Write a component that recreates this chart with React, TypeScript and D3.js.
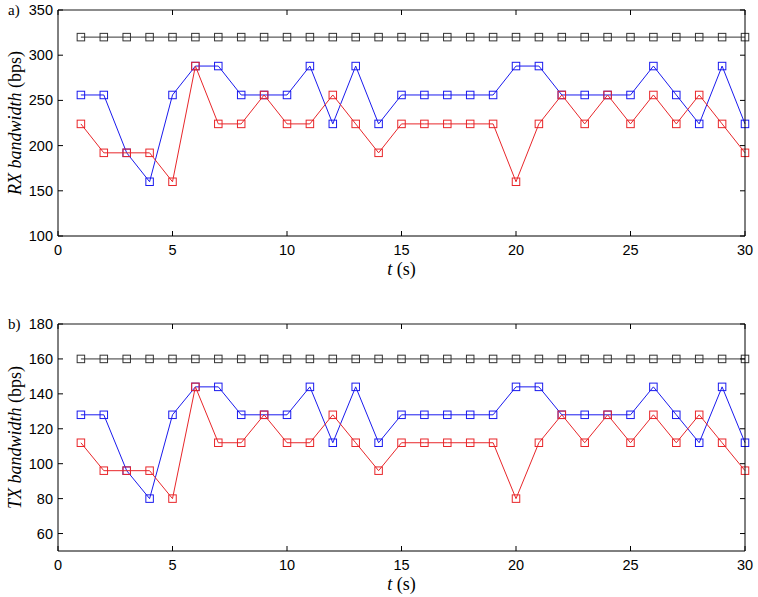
import React from "react";
import * as d3 from "d3";

const tValues = d3.range(1, 31);
const rxMax = [320,320,320,320,320,320,320,320,320,320,320,320,320,320,320,320,320,320,320,320,320,320,320,320,320,320,320,320,320,320];
const rxBlue = [256,256,192,160,256,288,288,256,256,256,288,224,288,224,256,256,256,256,256,288,288,256,256,256,256,288,256,224,288,224];
const rxRed = [224,192,192,192,160,288,224,224,256,224,224,256,224,192,224,224,224,224,224,160,224,256,224,256,224,256,224,256,224,192];
const txMax = [160,160,160,160,160,160,160,160,160,160,160,160,160,160,160,160,160,160,160,160,160,160,160,160,160,160,160,160,160,160];
const txBlue = [128,128,96,80,128,144,144,128,128,128,144,112,144,112,128,128,128,128,128,144,144,128,128,128,128,144,128,112,144,112];
const txRed = [112,96,96,96,80,144,112,112,128,112,112,128,112,96,112,112,112,112,112,80,112,128,112,128,112,128,112,128,112,96];
const xTicks = [0, 5, 10, 15, 20, 25, 30];
const rxTicks = [100, 150, 200, 250, 300, 350];
const txTicks = [60, 80, 100, 120, 140, 160, 180];

const L = 58, R = 745;
const sans = "'Liberation Sans', Arial, sans-serif";
const serif = "'Liberation Serif', 'Times New Roman', serif";

type PanelProps = {
  top: number; bottom: number; domain: [number, number]; yTicks: number[];
  series: { values: number[]; color: string }[]; tag: string; prefix: string;
};

function Panel({ top, bottom, domain, yTicks, series, tag, prefix }: PanelProps) {
  const x = d3.scaleLinear().domain([0, 30]).range([L, R]);
  const y = d3.scaleLinear().domain(domain).range([bottom, top]);
  const line = d3.line<number>().x((_, i) => x(tValues[i])).y(d => y(d));
  const tl = 5;
  const ms = 7.5;
  const midY = (top + bottom) / 2;
  return (
    <g>
      {series.map((s, si) => (
        <g key={si}>
          <path d={line(s.values) || ""} fill="none" stroke={s.color} strokeWidth={1} />
          {s.values.map((v, i) => (
            <rect key={i} x={x(tValues[i]) - ms / 2} y={y(v) - ms / 2} width={ms} height={ms}
              fill="none" stroke={s.color} strokeWidth={1} />
          ))}
        </g>
      ))}
      <line x1={L} x2={R} y1={top} y2={top} stroke="#666" strokeWidth={1.3} />
      <line x1={R} x2={R} y1={top} y2={bottom} stroke="#000" strokeWidth={1} />
      <line x1={L} x2={R} y1={bottom} y2={bottom} stroke="#000" strokeWidth={1} />
      <line x1={L} x2={L} y1={top} y2={bottom} stroke="#000" strokeWidth={1} />
      {xTicks.map(t => (
        <g key={"x" + t}>
          <line x1={x(t)} x2={x(t)} y1={bottom} y2={bottom - tl} stroke="#000" />
          <line x1={x(t)} x2={x(t)} y1={top} y2={top + tl} stroke="#000" />
          <text x={x(t)} y={bottom + 19} textAnchor="middle" fontFamily={sans} fontSize={14.5}>{t}</text>
        </g>
      ))}
      {yTicks.map(t => (
        <g key={"y" + t}>
          <line x1={L} x2={L + tl} y1={y(t)} y2={y(t)} stroke="#000" />
          <line x1={R} x2={R - tl} y1={y(t)} y2={y(t)} stroke="#000" />
          <text x={L - 5} y={y(t) + 5} textAnchor="end" fontFamily={sans} fontSize={14.5}>{t}</text>
        </g>
      ))}
      <text x={8} y={top + 5} fontFamily={serif} fontSize={15}>{tag}</text>
      <text x={x(15)} y={bottom + 39} textAnchor="middle" fontFamily={serif} fontSize={18}>
        <tspan fontStyle="italic">t</tspan> (s)
      </text>
      <text transform={`translate(21,${midY}) rotate(-90)`} textAnchor="middle" fontFamily={serif} fontSize={18}>
        <tspan fontStyle="italic">{prefix} bandwidth</tspan> (bps)
      </text>
    </g>
  );
}

export default function App() {
  return (
    <svg width={758} height={597} style={{ position: "absolute", left: 0, top: 0, background: "#fff" }}>
      <rect width={758} height={597} fill="#fff" />
      <Panel top={10} bottom={236} domain={[100, 350]} yTicks={rxTicks} tag="a)" prefix="RX"
        series={[
          { values: rxMax, color: "#333" },
          { values: rxBlue, color: "#1a1aee" },
          { values: rxRed, color: "#e8262a" },
        ]} />
      <Panel top={324} bottom={551} domain={[50, 180]} yTicks={txTicks} tag="b)" prefix="TX"
        series={[
          { values: txMax, color: "#333" },
          { values: txBlue, color: "#1a1aee" },
          { values: txRed, color: "#e8262a" },
        ]} />
    </svg>
  );
}
